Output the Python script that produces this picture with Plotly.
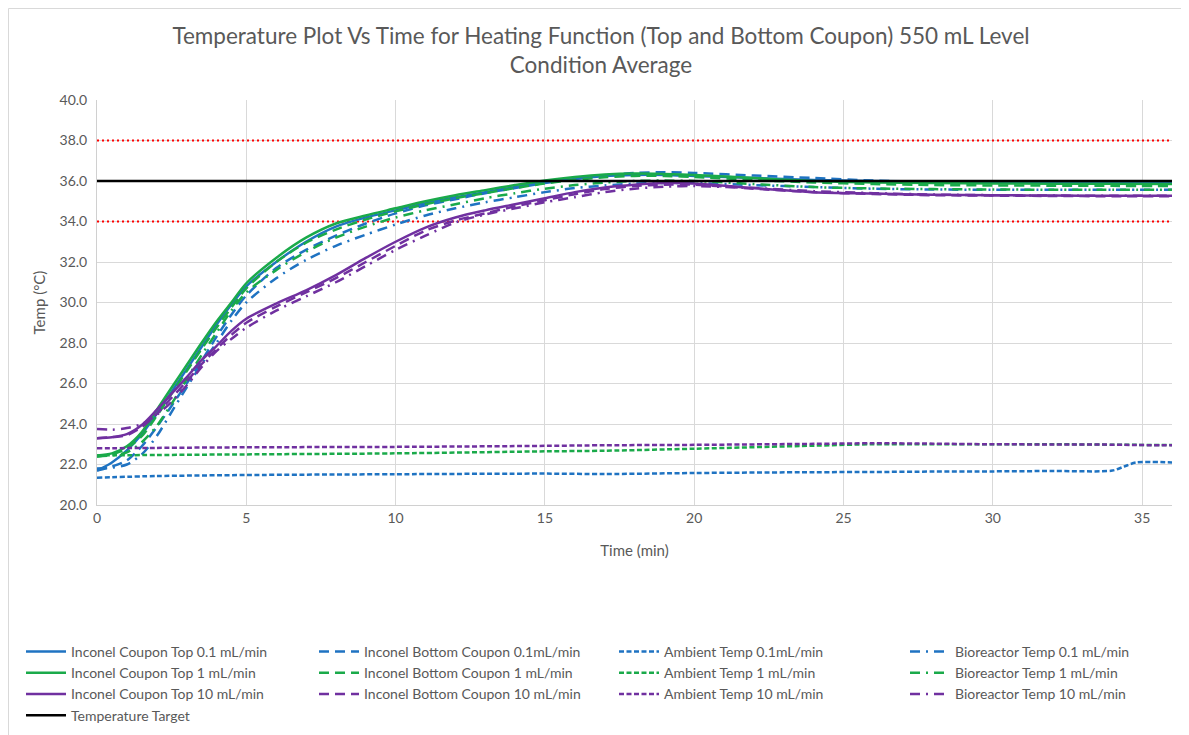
import plotly.graph_objects as go

# ---------------- data ----------------
t = [0, 0.5, 1, 1.5, 2, 2.5, 3, 3.5, 4, 4.5, 5, 6, 7, 8, 9, 10, 11, 12, 13, 14, 15,
     16, 17, 18, 19, 20, 22, 24, 26, 28, 30, 32, 34, 36]

top_01 = [21.7, 22.1, 22.7, 23.5, 24.5, 25.6, 26.7, 27.8, 28.9, 29.9, 30.8, 32.0, 33.0, 33.75,
          34.2, 34.55, 34.9, 35.2, 35.45, 35.7, 35.95, 36.1, 36.25, 36.3, 36.3, 36.25, 36.15,
          36.05, 36.0, 35.97, 35.96, 35.95, 35.95, 35.95]
top_1 = [22.45, 22.55, 22.9, 23.6, 24.7, 25.8, 26.9, 28.0, 29.05, 30.0, 30.95, 32.2, 33.2, 33.9,
         34.3, 34.65, 35.0, 35.3, 35.55, 35.8, 36.03, 36.2, 36.32, 36.37, 36.35, 36.3, 36.15,
         36.0, 35.93, 35.9, 35.88, 35.87, 35.86, 35.85]
top_10 = [23.3, 23.35, 23.5, 23.95, 24.7, 25.5, 26.3, 27.15, 27.85, 28.6, 29.2, 29.95, 30.6, 31.35,
          32.2, 33.0, 33.7, 34.2, 34.55, 34.85, 35.15, 35.45, 35.68, 35.82, 35.9, 35.88, 35.65,
          35.45, 35.38, 35.32, 35.3, 35.28, 35.27, 35.27]

bot_01 = [21.7, 21.9, 22.2, 22.9, 23.85, 24.9, 26.0, 27.1, 28.3, 29.4, 30.35, 31.7, 32.6, 33.3,
          33.9, 34.4, 34.8, 35.1, 35.4, 35.65, 35.9, 36.1, 36.28, 36.4, 36.43, 36.4, 36.27,
          36.15, 36.02, 35.95, 35.93, 35.93, 35.93, 35.93]
bot_1 = [22.4, 22.5, 22.8, 23.4, 24.4, 25.5, 26.6, 27.7, 28.75, 29.75, 30.7, 32.0, 32.95, 33.6,
         34.1, 34.5, 34.85, 35.15, 35.4, 35.65, 35.88, 36.05, 36.18, 36.25, 36.25, 36.2, 36.05,
         35.93, 35.85, 35.8, 35.78, 35.77, 35.76, 35.75]
bot_10 = [23.3, 23.35, 23.45, 23.85, 24.5, 25.3, 26.1, 26.95, 27.7, 28.4, 29.0, 29.8, 30.5, 31.2,
          32.0, 32.8, 33.55, 34.05, 34.4, 34.75, 35.05, 35.35, 35.6, 35.75, 35.82, 35.82, 35.62,
          35.45, 35.36, 35.3, 35.28, 35.26, 35.25, 35.25]

bio_01 = [21.8, 21.85, 22.0, 22.5, 23.4, 24.6, 25.8, 26.95, 28.0, 29.1, 30.0, 31.2, 32.1, 32.8,
          33.35, 33.85, 34.3, 34.65, 34.95, 35.2, 35.45, 35.65, 35.78, 35.87, 35.9, 35.9, 35.8,
          35.7, 35.62, 35.58, 35.57, 35.57, 35.57, 35.57]
bio_1 = [22.4, 22.45, 22.6, 23.1, 23.9, 25.0, 26.2, 27.4, 28.5, 29.6, 30.5, 31.6, 32.5, 33.2,
         33.75, 34.2, 34.55, 34.85, 35.15, 35.4, 35.62, 35.8, 35.92, 36.0, 36.02, 36.0, 35.85,
         35.7, 35.63, 35.6, 35.58, 35.57, 35.57, 35.57]
bio_10 = [23.75, 23.72, 23.8, 24.0, 24.45, 25.1, 25.9, 26.8, 27.6, 28.2, 28.75, 29.6, 30.3, 31.0,
          31.8, 32.6, 33.3, 33.95, 34.35, 34.65, 34.95, 35.2, 35.45, 35.62, 35.72, 35.75, 35.65,
          35.5, 35.4, 35.33, 35.3, 35.28, 35.27, 35.27]

t_amb = [0, 2, 5, 10, 15, 17, 20, 24, 26, 28, 30, 32, 34, 34.4, 34.8, 36]
amb_01 = [21.35, 21.43, 21.48, 21.52, 21.55, 21.53, 21.58, 21.62, 21.63, 21.65, 21.66, 21.68,
          21.7, 21.9, 22.1, 22.1]
amb_1 = [22.45, 22.47, 22.5, 22.55, 22.65, 22.68, 22.78, 22.93, 23.0, 23.0, 23.0, 23.0, 22.98,
         22.98, 22.97, 22.96]
amb_10 = [22.8, 22.82, 22.85, 22.87, 22.92, 22.95, 22.97, 23.02, 23.05, 23.03, 23.0, 22.99,
          22.98, 22.97, 22.96, 22.95]

t_target = [0, 36]
target = [36.0, 36.0]
limits = [34.0, 38.0]

x_ticks = [0, 5, 10, 15, 20, 25, 30, 35]
y_ticks = [20, 22, 24, 26, 28, 30, 32, 34, 36, 38, 40]

# ---------------- styles ----------------
BLUE = "#1f73c2"
GREEN = "#1aaa4a"
PURPLE = "#7030a0"
FONT = "Lato"
GRAY = "#595959"

D_SOLID = "solid"
D_LONG = "10px,6px"
D_SHORT = "5px,2.5px"
D_DASHDOT = "10px,6px,2px,6px"

# (name, x, y, colour, dash, legend column)
series = [
    ("Inconel Coupon Top 0.1 mL/min", t, top_01, BLUE, D_SOLID, "legend"),
    ("Inconel Bottom Coupon 0.1mL/min", t, bot_01, BLUE, D_LONG, "legend2"),
    ("Ambient Temp 0.1mL/min", t_amb, amb_01, BLUE, D_SHORT, "legend3"),
    ("Bioreactor Temp 0.1 mL/min", t, bio_01, BLUE, D_DASHDOT, "legend4"),
    ("Inconel Coupon Top 1 mL/min", t, top_1, GREEN, D_SOLID, "legend"),
    ("Inconel Bottom Coupon 1 mL/min", t, bot_1, GREEN, D_LONG, "legend2"),
    ("Ambient Temp 1 mL/min", t_amb, amb_1, GREEN, D_SHORT, "legend3"),
    ("Bioreactor Temp 1 mL/min", t, bio_1, GREEN, D_DASHDOT, "legend4"),
    ("Inconel Coupon Top 10 mL/min", t, top_10, PURPLE, D_SOLID, "legend"),
    ("Inconel Bottom Coupon 10 mL/min", t, bot_10, PURPLE, D_LONG, "legend2"),
    ("Ambient Temp 10 mL/min", t_amb, amb_10, PURPLE, D_SHORT, "legend3"),
    ("Bioreactor Temp 10 mL/min", t, bio_10, PURPLE, D_DASHDOT, "legend4"),
]

fig = go.Figure()

for lv in limits:
    fig.add_trace(go.Scatter(x=t_target, y=[lv, lv], mode="lines", showlegend=False,
                             hoverinfo="skip",
                             line=dict(color="#ff0000", width=2, dash="2px,3px")))

for name, xs, ys, col, dash, lg in series:
    fig.add_trace(go.Scatter(x=xs, y=ys, mode="lines", name=name, legend=lg,
                             line=dict(color=col, width=2.5, dash=dash, shape="spline",
                                       smoothing=0.8)))

fig.add_trace(go.Scatter(x=t_target, y=target, mode="lines", name="Temperature Target",
                         legend="legend", line=dict(color="black", width=2.5)))

# page has an 8px body margin: figure spans page px 8..8+W
OFF = 8
W, H = 1181, 727
L, R, T, B = 97 - OFF, 17, 100 - OFF, 230
pw, ph = W - L - R, H - T - B


def cy(page_y):
    return 1 - (page_y - OFF) / H


def cx(page_x):
    return (page_x - OFF) / W


def px(page_x):
    return (page_x - OFF - L) / pw


def legend_at(page_x):
    return dict(
        orientation="v", xref="paper", yref="container",
        x=px(page_x), xanchor="left", y=cy(636), yanchor="top",
        font=dict(family=FONT, size=14, color=GRAY),
        traceorder="normal", bgcolor="rgba(0,0,0,0)", itemwidth=40,
    )


fig.update_layout(
    width=W, height=H,
    margin=dict(l=L, r=R, t=T, b=B),
    paper_bgcolor="white", plot_bgcolor="white",
    font=dict(family=FONT, color=GRAY, size=14),
    title=dict(
        text="Temperature Plot Vs Time for Heating Function (Top and Bottom Coupon) 550 mL Level<br>Condition Average",
        x=cx(601), xanchor="center", xref="container",
        y=cy(44), yanchor="top", yref="container",
        font=dict(family=FONT, size=22.5, color=GRAY),
    ),
    xaxis=dict(
        range=[0, 36], tickvals=x_ticks, showgrid=True, gridcolor="#d9d9d9", gridwidth=1,
        showline=True, linecolor="#d0d0d0", linewidth=1, zeroline=False, ticks="",
        tickfont=dict(size=14, color=GRAY),
        title=dict(text="Time (min)", font=dict(size=15, color=GRAY), standoff=20),
    ),
    yaxis=dict(
        range=[20, 40], tickvals=y_ticks, tickformat=".1f", showgrid=True,
        gridcolor="#d9d9d9", gridwidth=1, showline=True, linecolor="#d0d0d0",
        linewidth=1, zeroline=False, ticks="", ticklabelstandoff=6,
        tickfont=dict(size=14, color=GRAY),
        title=dict(text="Temp (°C)", font=dict(size=15, color=GRAY), standoff=10),
    ),
    legend=legend_at(21),
    legend2=legend_at(314),
    legend3=legend_at(614),
    legend4=legend_at(905),
    showlegend=True,
)

# chart-area border along the figure edges
fig.add_shape(type="rect", xref="paper", yref="paper",
              x0=(0.5 - L) / pw, x1=(W - 1.5 - L) / pw,
              y0=(B - H + 1.5) / ph, y1=(H - B - 0.5) / ph,
              line=dict(color="#d9d9d9", width=1), layer="below")

fig.write_html("out.html")
